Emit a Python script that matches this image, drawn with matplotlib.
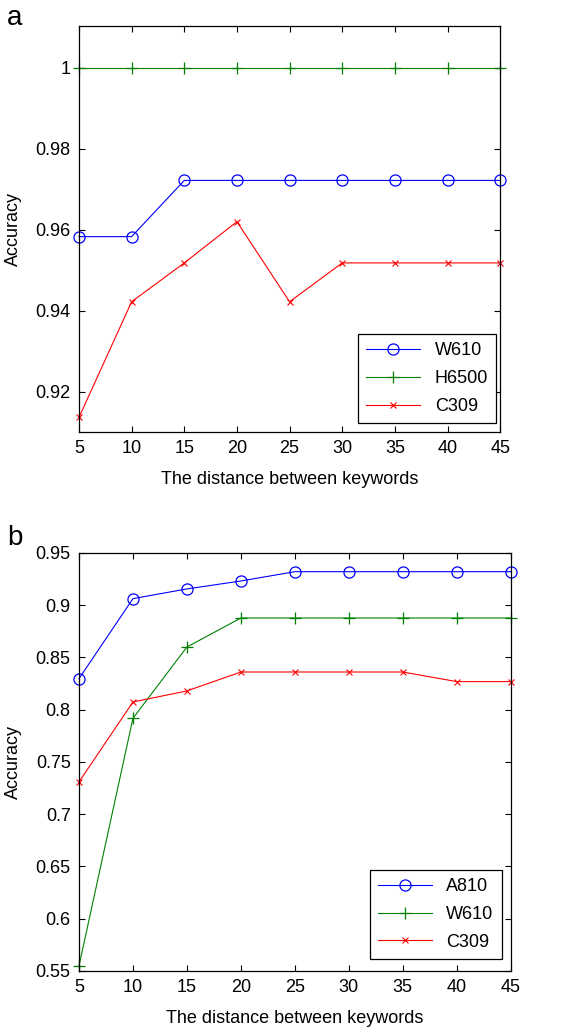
import matplotlib
matplotlib.use("Agg")
import matplotlib.pyplot as plt
from matplotlib.ticker import FuncFormatter

plt.rcParams["font.family"] = ["Liberation Sans", "DejaVu Sans"]
plt.rcParams["font.size"] = 13

distance = [5, 10, 15, 20, 25, 30, 35, 40, 45]

# panel a
a_w610 = [0.9583, 0.9583, 0.9722, 0.9722, 0.9722, 0.9722, 0.9722, 0.9722, 0.9722]
a_h6500 = [1.0, 1.0, 1.0, 1.0, 1.0, 1.0, 1.0, 1.0, 1.0]
a_c309 = [0.9136, 0.9422, 0.9518, 0.9620, 0.9422, 0.9518, 0.9518, 0.9518, 0.9518]

# panel b
b_a810 = [0.8297, 0.9063, 0.9156, 0.9232, 0.9321, 0.9321, 0.9321, 0.9321, 0.9321]
b_w610 = [0.5548, 0.7918, 0.8600, 0.8878, 0.8878, 0.8878, 0.8878, 0.8878, 0.8878]
b_c309 = [0.7309, 0.8074, 0.8180, 0.8361, 0.8361, 0.8361, 0.8361, 0.8269, 0.8269]

BLUE = "#0000ff"
GREEN = "#008000"
RED = "#ff0000"


def style_axes(ax):
    ax.set_xlim(5, 45)
    ax.set_xticks(distance)
    ax.tick_params(direction="in", top=True, right=True, length=4, width=0.8,
                   labelsize=13, pad=6)
    for s in ax.spines.values():
        s.set_linewidth(0.9)
    ax.yaxis.set_major_formatter(FuncFormatter(lambda v, p: f"{v:g}"))
    ax.set_xlabel("The distance between keywords", fontsize=13, labelpad=10)
    ax.set_ylabel("Accuracy", fontsize=13)


def add_legend(ax, anchor):
    leg = ax.legend(loc="lower right", bbox_to_anchor=anchor, fontsize=13,
                    frameon=True, fancybox=False, edgecolor="black",
                    framealpha=1, handlelength=3.0, borderpad=0.45,
                    labelspacing=0.6, borderaxespad=0)
    leg.get_frame().set_linewidth(0.9)
    return leg


fig = plt.figure(figsize=(5.85, 10.29), dpi=100)

ax1 = fig.add_axes([0.135, 0.5802, 0.72, 0.3946])
ax1.plot(distance, a_w610, color=BLUE, lw=0.8, marker="o", ms=8, mfc="none",
         mew=0.9, label="W610", clip_on=False)
ax1.plot(distance, a_h6500, color=GREEN, lw=0.8, marker="+", ms=9, mew=0.9,
         label="H6500", clip_on=False)
ax1.plot(distance, a_c309, color=RED, lw=0.8, marker="x", ms=4.5, mew=0.8,
         label="C309", clip_on=False)
ax1.set_ylim(0.91, 1.0104)
ax1.set_yticks([0.92, 0.94, 0.96, 0.98, 1.0])
style_axes(ax1)
ax1.yaxis.set_label_coords(-0.135, 0.5)
add_legend(ax1, (0.9905, 0.022))
fig.text(0.012, 0.9757, "a", fontsize=20, va="baseline", ha="left")

ax2 = fig.add_axes([0.135, 0.0564, 0.738, 0.4062])
ax2.plot(distance, b_a810, color=BLUE, lw=0.8, marker="o", ms=8, mfc="none",
         mew=0.9, label="A810", clip_on=False)
ax2.plot(distance, b_w610, color=GREEN, lw=0.8, marker="+", ms=9, mew=0.9,
         label="W610", clip_on=False)
ax2.plot(distance, b_c309, color=RED, lw=0.8, marker="x", ms=4.5, mew=0.8,
         label="C309", clip_on=False)
ax2.set_ylim(0.55, 0.95)
ax2.set_yticks([0.55, 0.6, 0.65, 0.7, 0.75, 0.8, 0.85, 0.9, 0.95])
style_axes(ax2)
ax2.yaxis.set_label_coords(-0.132, 0.5)
add_legend(ax2, (0.979, 0.029))
fig.text(0.012, 0.4704, "b", fontsize=20, va="baseline", ha="left")

fig.savefig("out.png", dpi=100)
